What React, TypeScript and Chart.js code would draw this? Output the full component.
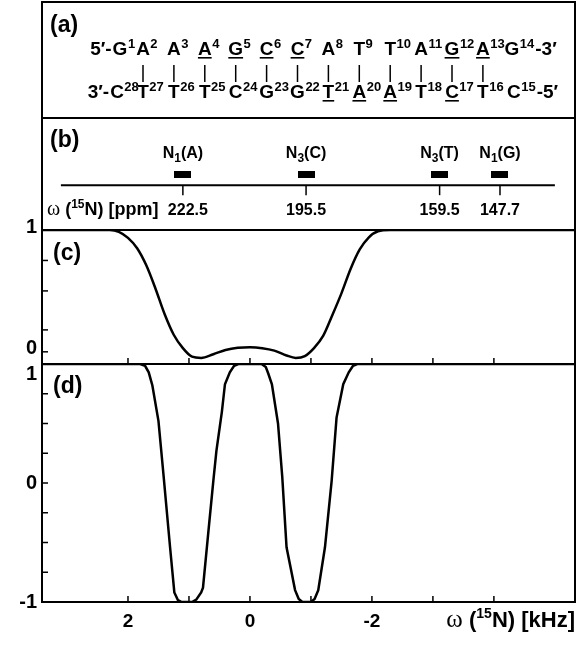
import React, { useEffect, useRef } from 'react';
import { Chart, registerables } from 'chart.js';

Chart.register(...registerables);

// ---------------- data ----------------
// shared frequency-offset axis (kHz), reversed: positive on the left
const kHzMinorTicks = [2, 1, 0, -1, -2, -3, -4];
const kHzLabelValues = [2, 0, -2];
const kHzLabels = ['2', '0', '-2'];

// panel (c)
const cOffsetKHz = [3.41, 2.6, 2.3, 2.15, 2.0, 1.85, 1.7, 1.55, 1.4, 1.25, 1.1, 0.95, 0.8, 0.6, 0.4, 0.2, 0.0, -0.2, -0.4, -0.6, -0.75, -0.9, -1.05, -1.2, -1.35, -1.5, -1.65, -1.8, -1.95, -2.1, -2.3, -3.0, -5.33];
const cSignal = [1, 1, 1, 0.985, 0.935, 0.85, 0.71, 0.52, 0.31, 0.14, 0.03, -0.04, -0.05, -0.02, 0.015, 0.033, 0.037, 0.03, 0.01, -0.03, -0.05, -0.035, 0.03, 0.13, 0.3, 0.48, 0.68, 0.84, 0.94, 0.99, 1, 1, 1];
const cTickValues = [1, 0];
const cTickLabels = ['1', '0'];
const cMinorTicks = [0.75, 0.5, 0.18, 0];

// panel (d)
const dOffsetKHz = [3.41, 1.8, 1.72, 1.66, 1.6, 1.5, 1.42, 1.31, 1.24, 1.18, 1.12, 0.95, 0.88, 0.8, 0.77, 0.68, 0.6, 0.55, 0.46, 0.41, 0.33, 0.26, 0.19, -0.19, -0.26, -0.3, -0.36, -0.46, -0.53, -0.6, -0.74, -0.8, -0.86, -1.0, -1.06, -1.12, -1.23, -1.34, -1.42, -1.53, -1.62, -1.69, -1.76, -5.33];
const dSignal = [1, 1, 0.985, 0.93, 0.82, 0.52, 0.08, -0.54, -0.92, -0.985, -1, -1, -0.98, -0.92, -0.88, -0.4, 0.02, 0.27, 0.6, 0.83, 0.93, 0.985, 1, 1, 0.975, 0.92, 0.83, 0.5, 0.05, -0.54, -0.9, -0.975, -1, -1, -0.975, -0.9, -0.54, 0.02, 0.55, 0.83, 0.93, 0.985, 1, 1];
const dTickValues = [1, 0, -1];
const dTickLabels = ['1', '0', '-1'];
const dMinorTicks = [0.75, 0.5, 0.25, 0, -0.25, -0.5, -0.75];

// panel (b): resonances
const resonanceAtoms = ['N', 'N', 'N', 'N'];
const resonanceSubscripts = ['1', '3', '3', '1'];
const resonanceBases = ['A', 'C', 'T', 'G'];
const resonancePpm = ['222.5', '195.5', '159.5', '147.7'];
const resonanceKHz = [1.1, -0.92, -3.11, -4.1];
const ppmAxisKHz = [3.1, -5.0];

// panel (a): duplex sequence
const topBases = ['G', 'A', 'A', 'A', 'G', 'C', 'C', 'A', 'T', 'T', 'A', 'G', 'A', 'G'];
const topNumbers = [1, 2, 3, 4, 5, 6, 7, 8, 9, 10, 11, 12, 13, 14];
const topUnderlined = [false, false, false, true, true, true, true, false, false, false, false, true, true, false];
const bottomBases = ['C', 'T', 'T', 'T', 'C', 'G', 'G', 'T', 'A', 'A', 'T', 'C', 'T', 'C'];
const bottomNumbers = [28, 27, 26, 25, 24, 23, 22, 21, 20, 19, 18, 17, 16, 15];
const bottomUnderlined = [false, false, false, false, false, false, false, true, true, true, false, true, false, false];

// ---------------- layout / style ----------------
const W = 580;
const H = 648;
const INK = '#000';
const SANS = '"Liberation Sans", Arial, Helvetica, sans-serif';
const SERIF = '"Liberation Serif", "DejaVu Serif", "Times New Roman", serif';

const SEQ_FIRST_BAR_X = 143;
const SEQ_PITCH = 30.9;
const SEQ_TOP_BASELINE = 55;
const SEQ_BOTTOM_BASELINE = 98;

type Part = { text: string; font: string; dy?: number };

function drawRich(ctx: CanvasRenderingContext2D, parts: Part[], x: number, y: number, align: 'left' | 'center' | 'right') {
  const widths = parts.map((p) => {
    ctx.font = p.font;
    return ctx.measureText(p.text).width;
  });
  const total = widths.reduce((a, b) => a + b, 0);
  let cx = align === 'left' ? x : align === 'center' ? x - total / 2 : x - total;
  parts.forEach((p, i) => {
    ctx.font = p.font;
    ctx.fillText(p.text, cx, y + (p.dy || 0));
    cx += widths[i];
  });
}

function line(ctx: CanvasRenderingContext2D, x1: number, y1: number, x2: number, y2: number) {
  ctx.beginPath();
  ctx.moveTo(x1, y1);
  ctx.lineTo(x2, y2);
  ctx.stroke();
}

function seqCenters(firstOffset: number, lastOffset: number): number[] {
  const n = topBases.length;
  const out: number[] = [];
  for (let i = 0; i < n; i++) {
    if (i === 0) out.push(SEQ_FIRST_BAR_X + firstOffset);
    else if (i === n - 1) out.push(SEQ_FIRST_BAR_X + (n - 3) * SEQ_PITCH + lastOffset);
    else out.push(SEQ_FIRST_BAR_X + (i - 1) * SEQ_PITCH);
  }
  return out;
}

function drawStrand(
  ctx: CanvasRenderingContext2D,
  bases: string[],
  nums: number[],
  under: boolean[],
  centers: number[],
  baseline: number,
  prefix: string,
  suffix: string
) {
  const LET = `bold 19px ${SANS}`;
  const SUP = `bold 13px ${SANS}`;
  let firstLeft = 0;
  let lastRight = 0;
  bases.forEach((b, i) => {
    ctx.font = LET;
    const w = ctx.measureText(b).width;
    const lx = centers[i] - w / 2;
    ctx.fillText(b, lx, baseline);
    if (under[i]) ctx.fillRect(lx, baseline + 2, w, 1.6);
    ctx.font = SUP;
    const s = String(nums[i]);
    ctx.fillText(s, lx + w + 0.5, baseline - 7);
    if (i === 0) firstLeft = lx;
    if (i === bases.length - 1) lastRight = lx + w + 0.5 + ctx.measureText(s).width;
  });
  ctx.font = LET;
  ctx.textAlign = 'right';
  ctx.fillText(prefix, firstLeft - 1, baseline);
  ctx.textAlign = 'left';
  ctx.fillText(suffix, lastRight + 1, baseline);
}

const figurePlugin = {
  id: 'figureDecor',
  afterDatasetsDraw(chart: any) {
    const ctx: CanvasRenderingContext2D = chart.ctx;
    const { left, right, top, bottom } = chart.chartArea;
    const xs = chart.scales.x;
    const yA = chart.scales.yA;
    const yB = chart.scales.yB;
    const yC = chart.scales.yC;
    const yD = chart.scales.yD;
    ctx.save();
    ctx.strokeStyle = INK;
    ctx.fillStyle = INK;
    ctx.textAlign = 'left';
    ctx.textBaseline = 'alphabetic';

    // frame and panel separators
    ctx.lineWidth = 2;
    ctx.strokeRect(left, top, right - left, bottom - top);
    [yA.bottom, yB.bottom, yC.bottom].forEach((yy: number) => line(ctx, left, yy, right, yy));

    // inward x tick marks at the bottom of (c) and (d)
    ctx.lineWidth = 1.5;
    kHzMinorTicks.forEach((v) => {
      const px = xs.getPixelForValue(v);
      line(ctx, px, yC.bottom, px, yC.bottom - 6);
      line(ctx, px, yD.bottom, px, yD.bottom - 6);
    });
    // inward y tick marks
    cMinorTicks.forEach((v) => {
      const py = yC.getPixelForValue(v);
      line(ctx, left, py, left + 6, py);
    });
    dMinorTicks.forEach((v) => {
      const py = yD.getPixelForValue(v);
      line(ctx, left, py, left + 6, py);
    });

    // y tick labels
    ctx.font = `bold 20px ${SANS}`;
    ctx.textAlign = 'right';
    ctx.textBaseline = 'middle';
    cTickValues.forEach((v, i) => {
      ctx.fillText(cTickLabels[i], 37, yC.getPixelForValue(v) - 3);
    });
    dTickValues.forEach((v, i) => {
      const shift = v === 1 ? 10 : 0;
      ctx.fillText(dTickLabels[i], 37, yD.getPixelForValue(v) + shift);
    });

    // x tick labels
    ctx.textAlign = 'center';
    ctx.textBaseline = 'alphabetic';
    ctx.font = `bold 19px ${SANS}`;
    kHzLabelValues.forEach((v, i) => {
      ctx.fillText(kHzLabels[i], xs.getPixelForValue(v), bottom + 25);
    });
    ctx.textAlign = 'left';
    drawRich(
      ctx,
      [
        { text: 'ω ', font: `25px ${SERIF}` },
        { text: '(', font: `bold 22px ${SANS}` },
        { text: '15', font: `bold 14px ${SANS}`, dy: -9 },
        { text: 'N) [kHz]', font: `bold 22px ${SANS}` },
      ],
      right,
      bottom + 25,
      'right'
    );

    // panel labels
    ctx.font = `bold 23px ${SANS}`;
    ctx.fillText('(a)', left + 8, top + 30);
    ctx.fillText('(b)', left + 8, yB.top + 29);
    ctx.fillText('(c)', left + 11, yC.top + 30);
    ctx.fillText('(d)', left + 11, yD.top + 29);

    // panel (b): ticks under the ppm line, ppm values, resonance names
    const lineY = yB.getPixelForValue(0.4);
    ctx.lineWidth = 1.5;
    resonanceKHz.forEach((v, i) => {
      const px = xs.getPixelForValue(v);
      line(ctx, px, lineY, px, lineY + 10);
      ctx.font = `bold 16px ${SANS}`;
      ctx.textAlign = 'center';
      ctx.fillText(resonancePpm[i], px + (i === 0 ? 5 : 0), yB.getPixelForValue(0.135));
      ctx.textAlign = 'left';
      drawRich(
        ctx,
        [
          { text: resonanceAtoms[i], font: `bold 16px ${SANS}` },
          { text: resonanceSubscripts[i], font: `bold 12px ${SANS}`, dy: 4 },
          { text: `(${resonanceBases[i]})`, font: `bold 16px ${SANS}` },
        ],
        px,
        yB.getPixelForValue(0.64),
        'center'
      );
    });
    drawRich(
      ctx,
      [
        { text: 'ω ', font: `20px ${SERIF}` },
        { text: '(', font: `bold 18px ${SANS}` },
        { text: '15', font: `bold 12px ${SANS}`, dy: -7 },
        { text: 'N) [ppm]', font: `bold 18px ${SANS}` },
      ],
      left + 5,
      yB.getPixelForValue(0.135),
      'left'
    );

    // panel (a): sequence
    const topC = seqCenters(-23, 29);
    const botC = seqCenters(-26, 31);
    drawStrand(ctx, topBases, topNumbers, topUnderlined, topC, yA.top + SEQ_TOP_BASELINE - 2, '5′-', '-3′');
    drawStrand(ctx, bottomBases, bottomNumbers, bottomUnderlined, botC, yA.top + SEQ_BOTTOM_BASELINE - 2, '3′-', '-5′');
    ctx.lineWidth = 1.5;
    for (let i = 1; i < topBases.length - 1; i++) {
      const bx = SEQ_FIRST_BAR_X + (i - 1) * SEQ_PITCH;
      line(ctx, bx, yA.top + 63, bx, yA.top + 80);
    }
    ctx.restore();
  },
};

export default function App() {
  const ref = useRef<HTMLCanvasElement>(null);
  useEffect(() => {
    if (!ref.current) return;
    const bar = document.createElement('canvas');
    bar.width = 17;
    bar.height = 7;
    const bctx = bar.getContext('2d');
    if (bctx) {
      bctx.fillStyle = INK;
      bctx.fillRect(0, 0, 17, 7);
    }
    const hidden = {
      display: true,
      ticks: { display: false },
      grid: { display: false, drawTicks: false, tickLength: 0 },
      border: { display: false },
      title: { display: false },
    };
    const chart = new Chart(ref.current, {
      type: 'line',
      data: {
        datasets: [
          {
            label: 'ppm axis',
            data: ppmAxisKHz.map((x) => ({ x, y: 0.4 })),
            yAxisID: 'yB',
            borderColor: INK,
            borderWidth: 2,
            pointRadius: 0,
          },
          {
            label: 'resonances',
            data: resonanceKHz.map((x) => ({ x, y: 0.5 })),
            yAxisID: 'yB',
            showLine: false,
            pointStyle: bar as any,
            pointRadius: 1,
            pointHoverRadius: 1,
            pointBorderWidth: 0,
            pointBackgroundColor: INK,
            pointBorderColor: INK,
          },
          {
            label: '(c)',
            data: cOffsetKHz.map((x, i) => ({ x, y: cSignal[i] })),
            yAxisID: 'yC',
            borderColor: INK,
            borderWidth: 2.5,
            pointRadius: 0,
            pointHoverRadius: 0,
            cubicInterpolationMode: 'monotone',
          },
          {
            label: '(d)',
            data: dOffsetKHz.map((x, i) => ({ x, y: dSignal[i] })),
            yAxisID: 'yD',
            borderColor: INK,
            borderWidth: 2.5,
            pointRadius: 0,
            pointHoverRadius: 0,
            tension: 0,
          },
        ],
      },
      options: {
        animation: false,
        responsive: false,
        maintainAspectRatio: false,
        events: [],
        layout: { autoPadding: false, padding: { left: 42, right: 5, top: 2, bottom: 46 } },
        plugins: { legend: { display: false }, tooltip: { enabled: false }, title: { display: false } },
        scales: {
          x: { type: 'linear', min: -5.33, max: 3.41, reverse: true, ...hidden },
          yD: { type: 'linear', position: 'left', min: -1, max: 1, stack: 'panels', stackWeight: 238, ...hidden },
          yC: { type: 'linear', position: 'left', min: -0.1, max: 1, stack: 'panels', stackWeight: 134, ...hidden },
          yB: { type: 'linear', position: 'left', min: 0, max: 1, stack: 'panels', stackWeight: 112, ...hidden },
          yA: { type: 'linear', position: 'left', min: 0, max: 1, stack: 'panels', stackWeight: 116, ...hidden },
        } as any,
      },
      plugins: [figurePlugin],
    });
    return () => chart.destroy();
  }, []);
  return (
    <div style={{ position: 'absolute', left: 0, top: 0, width: W, height: H, background: '#fff' }}>
      <canvas ref={ref} width={W} height={H} style={{ display: 'block', width: W, height: H }} />
    </div>
  );
}
